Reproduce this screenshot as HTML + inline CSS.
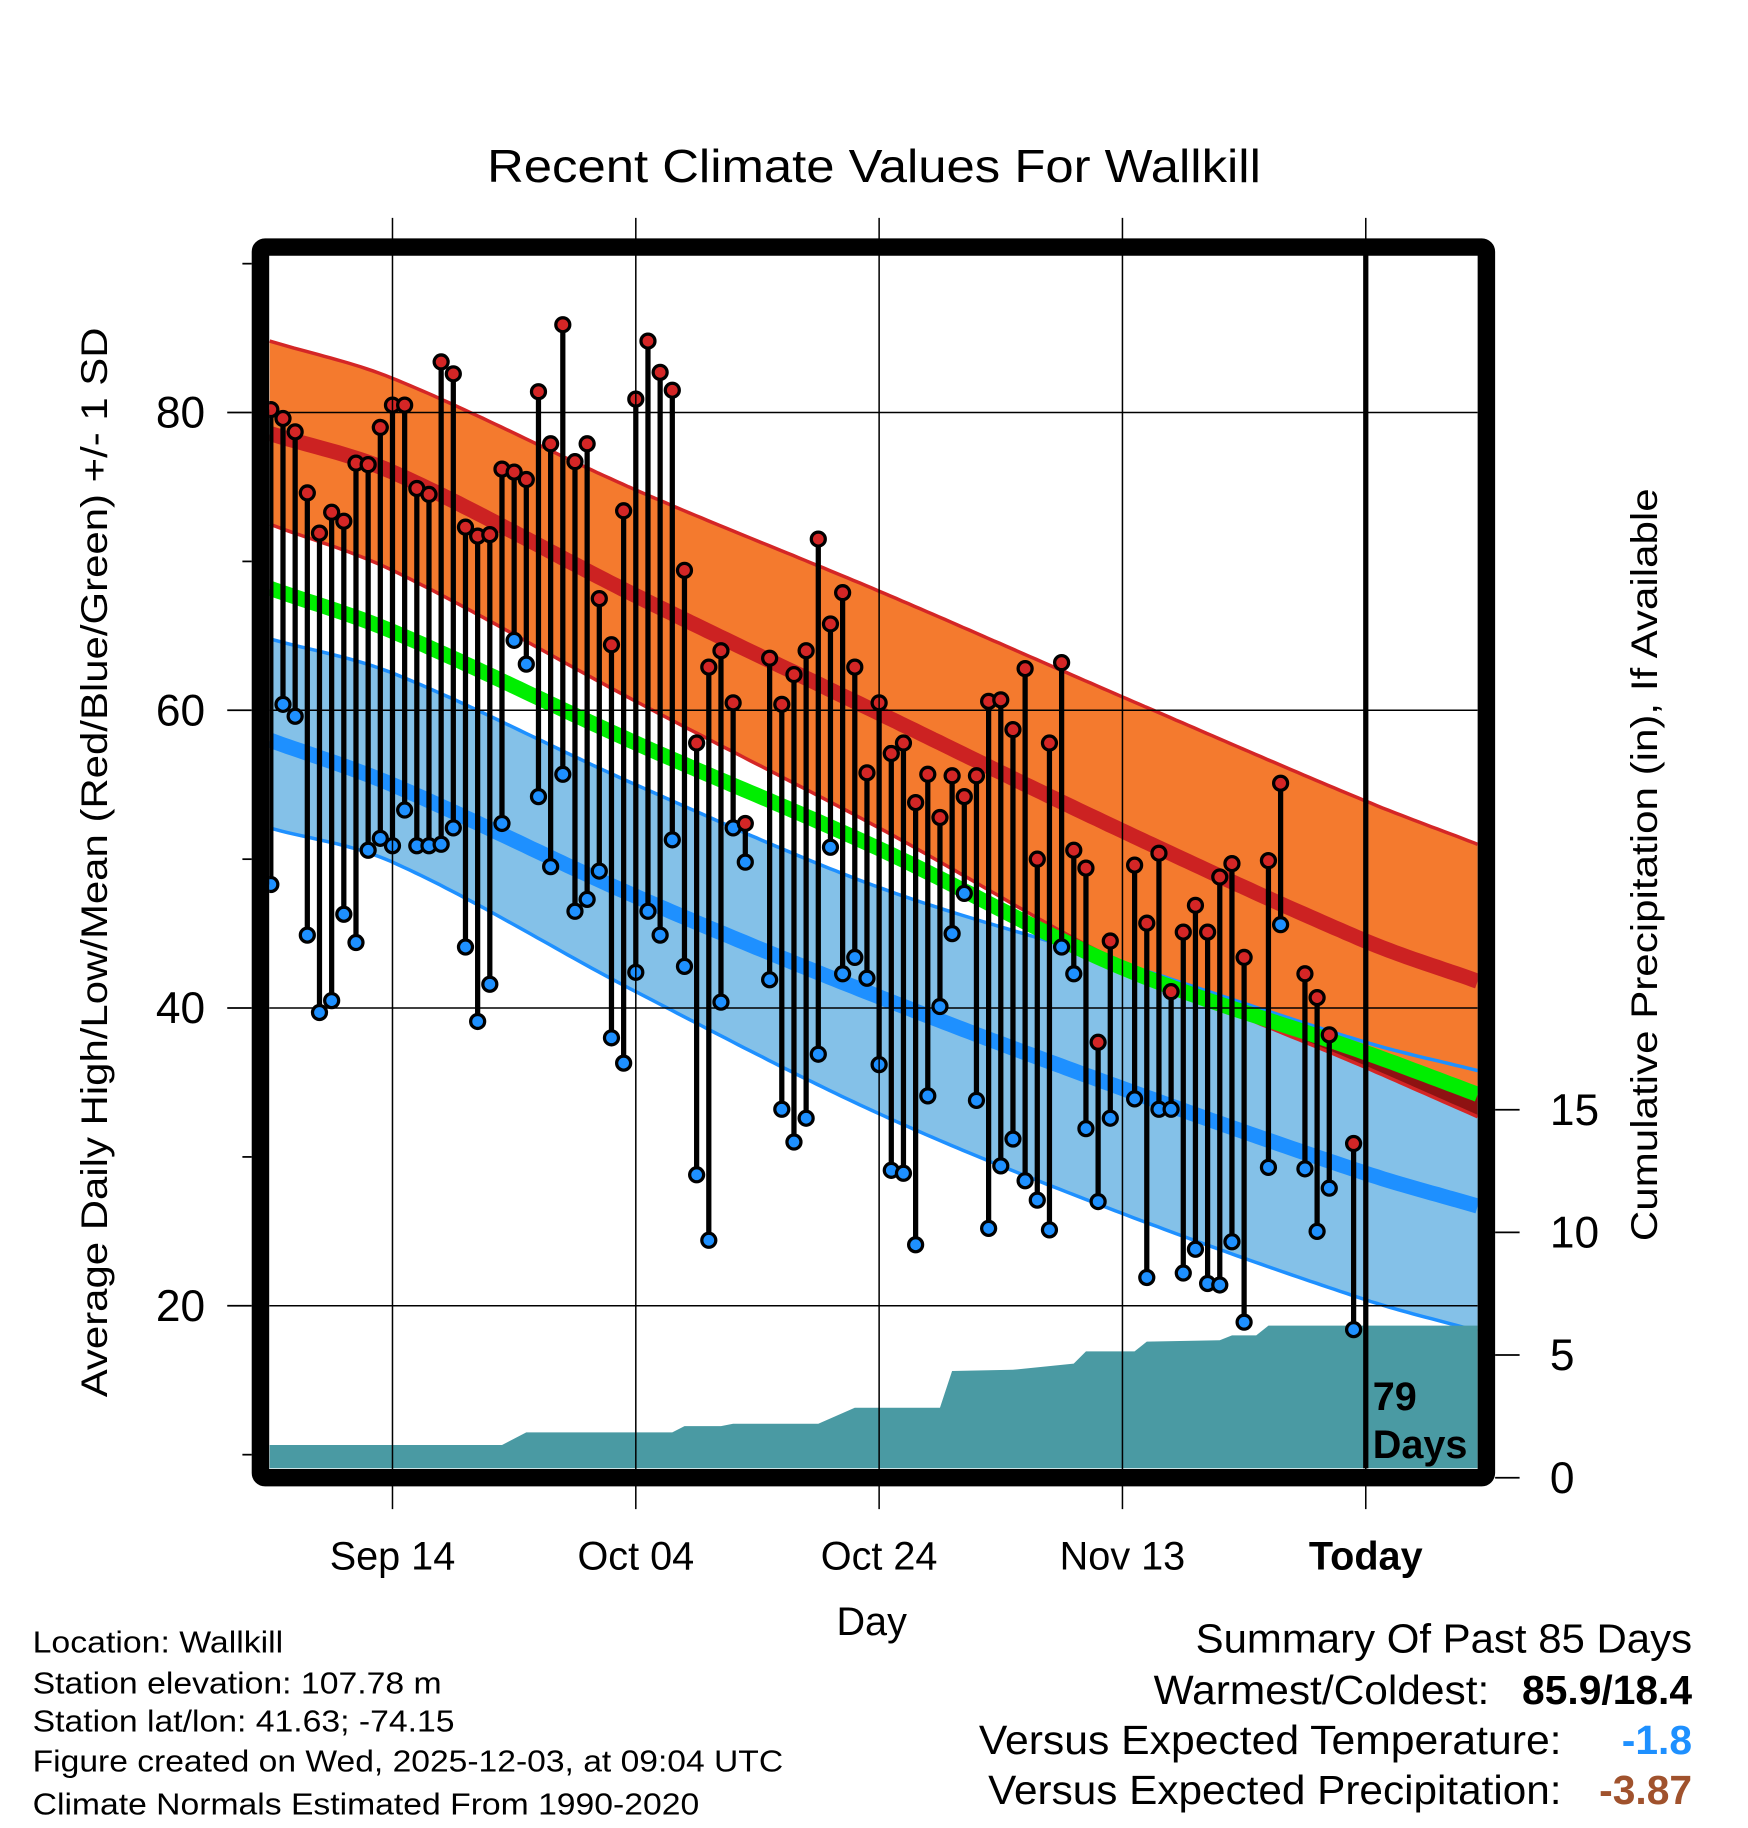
<!DOCTYPE html>
<html><head><meta charset="utf-8"><title>Recent Climate Values For Wallkill</title>
<style>html,body{margin:0;padding:0;background:#fff}svg{display:block;font-family:"Liberation Sans",Arial,sans-serif}</style>
</head><body>
<svg id="chart" width="1748" height="1828" viewBox="0 0 1500 1568.6" preserveAspectRatio="none" xmlns="http://www.w3.org/2000/svg">
<rect width="1500" height="1568.6" fill="#fff"/>
<text x="750" y="156" font-size="40" text-anchor="middle" textLength="664" lengthAdjust="spacingAndGlyphs">Recent Climate Values For Wallkill</text>
<g id="plot"></g>
<text transform="translate(92,740) rotate(-90)" font-size="32" text-anchor="middle" textLength="918" lengthAdjust="spacingAndGlyphs">Average Daily High/Low/Mean (Red/Blue/Green) +/- 1 SD</text>
<text transform="translate(1422,742) rotate(-90)" font-size="32" text-anchor="middle" textLength="646" lengthAdjust="spacingAndGlyphs">Cumulative Precipitation (in), If Available</text>
<text x="748" y="1403" font-size="34" text-anchor="middle">Day</text>
<g font-size="26">
<text x="28" y="1418" textLength="215" lengthAdjust="spacingAndGlyphs">Location: Wallkill</text>
<text x="28" y="1453" textLength="351" lengthAdjust="spacingAndGlyphs">Station elevation: 107.78 m</text>
<text x="28" y="1486" textLength="362" lengthAdjust="spacingAndGlyphs">Station lat/lon: 41.63; -74.15</text>
<text x="28" y="1520" textLength="644" lengthAdjust="spacingAndGlyphs">Figure created on Wed, 2025-12-03, at 09:04 UTC</text>
<text x="28" y="1557" textLength="572" lengthAdjust="spacingAndGlyphs">Climate Normals Estimated From 1990-2020</text>
</g>
<g font-size="35">
<text x="1452" y="1418" text-anchor="end" textLength="426" lengthAdjust="spacingAndGlyphs">Summary Of Past 85 Days</text>
<text x="1278" y="1462" text-anchor="end" textLength="288" lengthAdjust="spacingAndGlyphs">Warmest/Coldest:</text>
<text x="1452" y="1462" text-anchor="end" font-weight="bold">85.9/18.4</text>
<text x="1340" y="1505" text-anchor="end" textLength="500" lengthAdjust="spacingAndGlyphs">Versus Expected Temperature:</text>
<text x="1452" y="1505" text-anchor="end" font-weight="bold" fill="#1E90FF">-1.8</text>
<text x="1340" y="1548" text-anchor="end" textLength="492" lengthAdjust="spacingAndGlyphs">Versus Expected Precipitation:</text>
<text x="1452" y="1548" text-anchor="end" font-weight="bold" fill="#A0522D">-3.87</text>
</g>
</svg>
<script>
// ---- data ----
const obsDays = [-90,-89,-88,-87,-86,-85,-84,-83,-82,-81,-80,-79,-78,-77,-76,-75,-74,-73,-72,-71,-70,-69,-68,-67,-66,-65,-64,-63,-62,-61,-60,-59,-58,-57,-56,-55,-54,-53,-52,-51,
 -49,-48,-47,-46,-45,-44,-43,-42,-41,-40,-39,-38,-37,-36,-35,-34,-33,-32,-31,-30,-29,-28,-27,-26,-25,-24,-23,-22,-21,
 -19,-18,-17,-16,-15,-14,-13,-12,-11,-10,-8,-7,-5,-4,-3,-1];
const highs = [80.2,79.6,78.7,74.6,71.9,73.3,72.7,76.6,76.5,79.0,80.5,80.5,74.9,74.5,83.4,82.6,72.3,71.7,71.8,76.2,76.0,75.5,81.4,77.9,85.9,76.7,77.9,67.5,64.4,73.4,80.9,84.8,82.7,81.5,69.4,57.8,62.9,64.0,60.5,52.4,
 63.5,60.4,62.4,64.0,71.5,65.8,67.9,62.9,55.8,60.5,57.1,57.8,53.8,55.7,52.8,55.6,54.2,55.6,60.6,60.7,58.7,62.8,50.0,57.8,63.2,50.6,49.4,37.7,44.5,
 49.6,45.7,50.4,41.1,45.1,46.9,45.1,48.8,49.7,43.4,49.9,55.1,42.3,40.7,38.2,30.9];
const lows = [48.3,60.4,59.6,44.9,39.7,40.5,46.3,44.4,50.6,51.4,50.9,53.3,50.9,50.9,51.0,52.1,44.1,39.1,41.6,52.4,64.7,63.1,54.2,49.5,55.7,46.5,47.3,49.2,38.0,36.3,42.4,46.5,44.9,51.3,42.8,28.8,24.4,40.4,52.1,49.8,
 41.9,33.2,31.0,32.6,36.9,50.8,42.3,43.4,42.0,36.2,29.1,28.9,24.1,34.1,40.1,45.0,47.7,33.8,25.2,29.4,31.2,28.4,27.1,25.1,44.1,42.3,31.9,27.0,32.6,
 33.9,21.9,33.2,33.2,22.2,23.8,21.5,21.4,24.3,18.9,29.3,45.6,29.2,25.0,27.9,18.4];
const normDays = [-90.1,-80,-60,-40,-20,0,9.2];
const normHighUpper = [84.8,82.3,74.8,68.0,60.9,53.9,51.0];
const normHighMean  = [78.6,76.0,67.7,59.8,51.9,44.5,41.8];
const normHighLower = [72.5,69.4,60.6,52.1,43.0,36.0,32.7];
const normMean      = [68.2,65.3,57.8,50.7,42.7,37.0,34.2];
const normLowUpper  = [64.8,62.5,55.0,48.1,43.0,37.7,35.8];
const normLowMean   = [58.0,55.0,47.5,40.75,34.6,28.9,26.7];
const normLowLower  = [52.1,49.8,41.1,32.9,26.2,20.4,18.3];
const precipDays  = [-90.1,-71,-69,-57,-56,-53,-52,-45,-42,-35,-34,-29,-24,-23,-19,-18,-12,-11,-9,-8,9.2];
const precipTotal = [1.33,1.33,1.85,1.85,2.1,2.1,2.2,2.2,2.85,2.85,4.35,4.4,4.65,5.15,5.15,5.55,5.6,5.8,5.8,6.2,6.2];
const xTickDays = [-80,-60,-40,-20,0];
const xTickLabels = ['Sep 14','Oct 04','Oct 24','Nov 13','Today'];
const yTicks = [20,40,60,80];
const yMinor = [10,30,50,70,90];
const pTicks = [0,5,10,15];

// ---- axes ----
const L=231,R=1268,T=218,B=1260;
const xs = d => 1172 + d*10.44;
const ys = v => 354 + (80-v)*12.775;
const yp = p => 1268 - p*21.05;
const NS='http://www.w3.org/2000/svg';
const plot=document.getElementById('plot');
function mk(tag,attrs,parent){const e=document.createElementNS(NS,tag);for(const k in attrs)e.setAttribute(k,attrs[k]);(parent||plot).appendChild(e);return e;}
function interp(arr,d){ // cubic hermite
  const n=normDays.length;let i=0;while(i<n-2&&d>normDays[i+1])i++;
  const x0=normDays[i],x1=normDays[i+1],t=(d-x0)/(x1-x0);
  const sl=k=>{const a=Math.max(0,k-1),b=Math.min(n-1,k+1);return (arr[b]-arr[a])/(normDays[b]-normDays[a]);};
  const h=x1-x0,m0=sl(i)*h,m1=sl(i+1)*h,t2=t*t,t3=t2*t;
  return (2*t3-3*t2+1)*arr[i]+(t3-2*t2+t)*m0+(-2*t3+3*t2)*arr[i+1]+(t3-t2)*m1;
}
const samp=[];for(let d=normDays[0];d<=9.2;d+=0.5)samp.push(d);samp.push(9.2);
const line=arr=>samp.map(d=>xs(d).toFixed(1)+','+ys(interp(arr,d)).toFixed(1)).join(' ');
const band=(a,b)=>line(a)+' '+samp.slice().reverse().map(d=>xs(d).toFixed(1)+','+ys(interp(b,d)).toFixed(1)).join(' ');
const wsamp=samp.filter(d=>d>=-12);
const wedge=(a,b)=>wsamp.map(d=>xs(d).toFixed(1)+','+ys(interp(a,d)).toFixed(1)).join(' ')+' '+wsamp.slice().reverse().map(d=>xs(d).toFixed(1)+','+ys(interp(b,d)).toFixed(1)).join(' ');

const clip=mk('clipPath',{id:'pc'});mk('rect',{x:L,y:T,width:R-L,height:B-T},clip);
const g=mk('g',{'clip-path':'url(#pc)'});
let e;
e=mk('polygon',{points:band(normLowUpper,normLowLower),fill:'#84C1E8'},g);


e=mk('polygon',{points:band(normHighUpper,normHighLower),fill:'#F47A2E'},g);


e=mk('polygon',{points:wedge(normMean,normHighLower),fill:'#8E1212'},g);


e=mk('polyline',{points:line(normHighUpper),fill:'none',stroke:'#D42626','stroke-width':3},g);


e=mk('polyline',{points:line(normHighLower),fill:'none',stroke:'#D42626','stroke-width':3},g);


e=mk('polyline',{points:line(normLowUpper),fill:'none',stroke:'#1E90FF','stroke-width':3},g);


e=mk('polyline',{points:line(normLowLower),fill:'none',stroke:'#1E90FF','stroke-width':3},g);


e=mk('polyline',{points:line(normHighMean),fill:'none',stroke:'#CC2222','stroke-width':13},g);


e=mk('polyline',{points:line(normLowMean),fill:'none',stroke:'#1E90FF','stroke-width':13},g);


e=mk('polyline',{points:line(normMean),fill:'none',stroke:'#00EE00','stroke-width':13},g);


// precipitation area
let pp=precipDays.map((d,i)=>xs(d).toFixed(1)+','+yp(precipTotal[i]).toFixed(1)).join(' ');
pp+=' '+xs(9.2)+','+B+' '+xs(-90.1)+','+B;
e=mk('polygon',{points:pp,fill:'#4A9AA3'},g);


// grid
yTicks.forEach(v=>{e=mk('line',{x1:L,x2:R,y1:ys(v),y2:ys(v),stroke:'#000','stroke-width':1.3},g);

});
xTickDays.forEach(d=>{e=mk('line',{x1:xs(d),x2:xs(d),y1:187,y2:1295,stroke:'#000','stroke-width':1.3});

});
e=mk('line',{x1:xs(0),x2:xs(0),y1:T,y2:B,stroke:'#000','stroke-width':4.5},g);


// stems and points
obsDays.forEach((d,i)=>{
  const x=xs(d);
  e=mk('line',{x1:x,x2:x,y1:ys(highs[i]),y2:ys(lows[i]),stroke:'#000','stroke-width':4.5},g);
  
  
});
obsDays.forEach((d,i)=>{
  const x=xs(d);
  e=mk('circle',{cx:x,cy:ys(highs[i]),r:6,fill:'#D42626',stroke:'#000','stroke-width':2.8},g);
  
  
  e=mk('circle',{cx:x,cy:ys(lows[i]),r:6,fill:'#1E90FF',stroke:'#000','stroke-width':2.8},g);
  
  
});
e=mk('text',{x:1178,y:1210,'font-size':34,'font-weight':'bold'},g);e.textContent='79';


e=mk('text',{x:1178,y:1251,'font-size':34,'font-weight':'bold'},g);e.textContent='Days';


// frame
e=mk('rect',{x:223.5,y:212,width:1052,height:1056,fill:'none',stroke:'#000','stroke-width':15,rx:4});


// left ticks
yTicks.forEach(v=>{
  e=mk('line',{x1:195,x2:216,y1:ys(v),y2:ys(v),stroke:'#000','stroke-width':1.5});
  
  
  e=mk('text',{x:176,y:ys(v)+13,'font-size':38,'text-anchor':'end'});e.textContent=String(v);
  
  
});
yMinor.forEach(v=>{e=mk('line',{x1:208,x2:216,y1:ys(v),y2:ys(v),stroke:'#000','stroke-width':1.5});

});
// right ticks
pTicks.forEach(p=>{
  e=mk('line',{x1:1283,x2:1304,y1:yp(p),y2:yp(p),stroke:'#000','stroke-width':1.5});
  
  
  e=mk('text',{x:1330,y:yp(p)+13,'font-size':38});e.textContent=String(p);
  
  
});
// x labels
xTickDays.forEach((d,i)=>{
  e=mk('text',{x:xs(d),y:1347,'font-size':34,'text-anchor':'middle','font-weight':d===0?'bold':'normal'});
  e.textContent=xTickLabels[i];
  
  
});
</script>
</body></html>
